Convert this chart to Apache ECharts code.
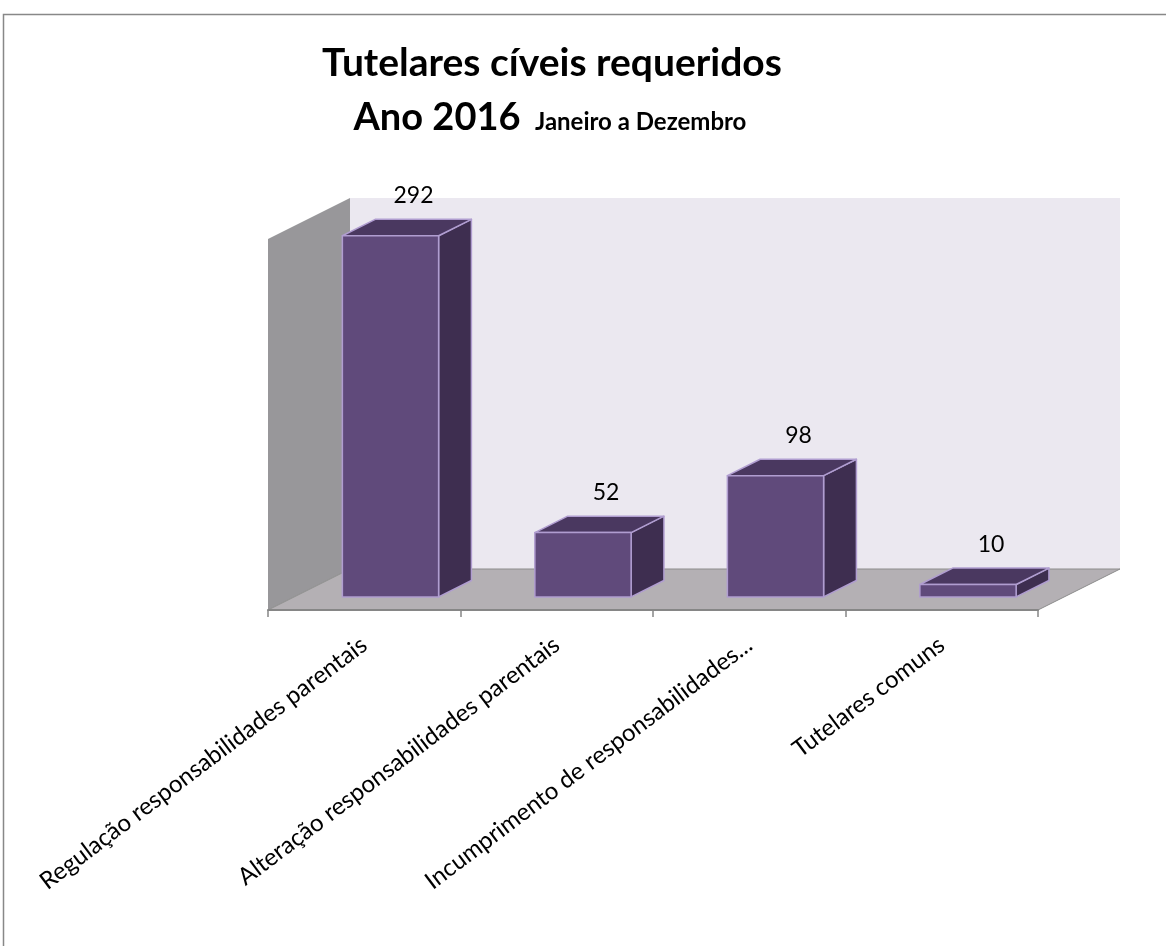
<!DOCTYPE html>
<html>
<head>
<meta charset="utf-8">
<script src="https://cdn.jsdelivr.net/npm/echarts@6.0.0/dist/echarts.min.js"></script>
<style>
  html, body { margin: 0; padding: 0; background: #ffffff; }
  #chart { width: 1166px; height: 946px; }
</style>
</head>
<body>
<div id="chart"></div>
<script>
// Categories and counts
const categories = [
  'Regulação responsabilidades parentais',
  'Alteração responsabilidades parentais',
  'Incumprimento de responsabilidades...',
  'Tutelares comuns'
];
const values = [292, 52, 98, 10];
const valueAxisMax = 300;

// 3D look: depth of the wall box and where the bars stand inside it
const WALL_DX = 82, WALL_DY = -41;
const BAR_OFFSET = 0.32;   // fraction of the depth in front of the bar
const BAR_DEPTH = 0.40;    // fraction of the depth occupied by the bar

const FONT = 'Lato, "Open Sans", sans-serif';

const chart = echarts.init(document.getElementById('chart'), null, { renderer: 'canvas' });

function renderWalls(params, api) {
  const cs = params.coordSys;
  const l = cs.x, r = cs.x + cs.width, t = cs.y, b = cs.y + cs.height;
  const dx = WALL_DX, dy = WALL_DY;
  return {
    type: 'group',
    children: [
      { type: 'polygon', shape: { points: [[l + dx, t + dy], [r + dx, t + dy], [r + dx, b + dy], [l + dx, b + dy]] },
        style: { fill: '#ebe8f0' } },
      { type: 'polygon', shape: { points: [[l, t], [l + dx, t + dy], [l + dx, b + dy], [l, b]] },
        style: { fill: '#98979a' } },
      { type: 'polygon', shape: { points: [[l, b], [l + dx, b + dy], [r + dx, b + dy], [r, b]] },
        style: { fill: '#b4b0b4', stroke: '#8c8c8c', lineWidth: 1 } }
    ]
  };
}

function renderBar(params, api) {
  const i = api.value(0), v = api.value(1);
  const top = api.coord([i, v]);
  const base = api.coord([i, 0]);
  const band = api.size([1, 0])[0];
  const w = band * 0.5;
  const ox = WALL_DX * BAR_OFFSET, oy = WALL_DY * BAR_OFFSET;
  const ddx = WALL_DX * BAR_DEPTH, ddy = WALL_DY * BAR_DEPTH;
  const x0 = top[0] - w / 2 + ox, x1 = x0 + w;
  const yT = top[1] + oy, yB = base[1] + oy;
  const edge = { stroke: '#b09dd0', lineWidth: 1.5, lineJoin: 'round' };
  return {
    type: 'group',
    children: [
      { type: 'polygon', shape: { points: [[x1, yT], [x1 + ddx, yT + ddy], [x1 + ddx, yB + ddy], [x1, yB]] },
        style: Object.assign({ fill: '#3e2e50' }, edge) },
      { type: 'polygon', shape: { points: [[x0, yT], [x0 + ddx, yT + ddy], [x1 + ddx, yT + ddy], [x1, yT]] },
        style: Object.assign({ fill: '#4a3860' }, edge) },
      { type: 'rect', shape: { x: x0, y: yT, width: w, height: yB - yT },
        style: Object.assign({ fill: '#604a7b' }, edge) },
      { type: 'text',
        style: { x: (x0 + x1) / 2 + 23, y: yT + ddy - 24, text: String(v),
                 fill: '#000000', font: '23px ' + FONT, align: 'center', verticalAlign: 'middle' } }
    ]
  };
}

const titleStyle = (size) => ({
  fontFamily: FONT, fontWeight: 'bold', fontSize: size, color: '#000', lineHeight: size
});

chart.setOption({
  backgroundColor: '#ffffff',
  animation: false,
  title: [
    { text: 'Tutelares cíveis requeridos', left: 552, top: 44, textAlign: 'center', padding: 0,
      textStyle: titleStyle(39) },
    { text: 'Ano 2016', left: 437, top: 99, textAlign: 'center', padding: 0,
      textStyle: titleStyle(38) },
    { text: 'Janeiro a Dezembro', left: 535, top: 110, textAlign: 'left', padding: 0,
      textStyle: titleStyle(24) }
  ],
  graphic: [{
    type: 'rect', z: -10, silent: true,
    shape: { x: 3.5, y: 14.5, width: 1300, height: 1100 },
    style: { fill: 'none', stroke: '#888888', lineWidth: 1.5 }
  }],
  grid: { left: 268, right: 128, top: 239, bottom: 336, containLabel: false },
  xAxis: {
    type: 'category',
    data: categories,
    z: 10,
    axisLine: { lineStyle: { color: '#868686', width: 2 } },
    axisTick: { show: true, length: 7, lineStyle: { color: '#868686', width: 1.5 } },
    axisLabel: { interval: 0, rotate: 37, margin: 32, color: '#000', fontFamily: FONT, fontSize: 24 }
  },
  yAxis: {
    type: 'value', min: 0, max: valueAxisMax, show: false,
    splitLine: { show: false }
  },
  series: [
    { type: 'custom', renderItem: renderWalls, data: [[0, 0]], z: 1, silent: true },
    { type: 'custom', renderItem: renderBar, data: values.map((v, i) => [i, v]), z: 3,
      encode: { x: 0, y: 1 } }
  ]
});
</script>
</body>
</html>
